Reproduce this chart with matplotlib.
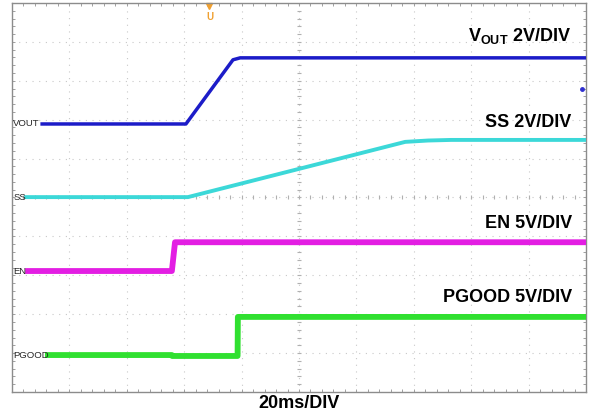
import numpy as np
import matplotlib.pyplot as plt

plt.rcParams['font.family'] = ['Liberation Sans', 'DejaVu Sans']
plt.rcParams['mathtext.fontset'] = 'custom'
plt.rcParams['mathtext.bf'] = 'Liberation Sans:bold'
plt.rcParams['mathtext.rm'] = 'Liberation Sans'

# Canales del osciloscopio: tiempo en ms, tension en V
t_vout = [10.5, 60.6, 77.0, 79.5, 200]
v_vout = [0.0, 0.0, 3.3, 3.4, 3.4]

t_ss = [4.9, 61.3, 137, 145, 153, 200]
v_ss = [0.0, 0.0, 2.84, 2.91, 2.94, 2.94]

t_en = [5.6, 55.7, 56.8, 200]
v_en = [0.0, 0.0, 3.7, 3.7]

t_pg = [12.5, 55.7, 55.8, 78.6, 78.7, 200]
v_pg = [0.0, 0.0, -0.12, -0.12, 4.9, 4.9]

# Escala (V/div) y posicion de tierra (div) de cada canal
canales = ["VOUT", "SS", "EN", "PGOOD"]
escalas = [2, 2, 5, 5]
offsets = [6.89, 5.01, 3.11, 0.95]
colores = ["#1c1cc8", "#3cd8d8", "#e31ee3", "#30e030"]
grosor = [2.5, 2.8, 4.2, 4.2]
etiquetas = [r"$\mathbf{V_{OUT}}$ 2V/DIV", "SS 2V/DIV", "EN 5V/DIV", "PGOOD 5V/DIV"]
y_etiquetas = [9.15, 6.92, 4.32, 2.44]

fig = plt.figure(figsize=(5.89, 4.17), dpi=100)
ax = fig.add_axes([12/589, 25/417, 574/589, 389/417])
ax.set_xlim(0, 200)
ax.set_ylim(0, 10)

# Reticula punteada
for k in range(1, 10):
    ax.axvline(k*20, color="#c8c8c8", lw=0.8, ls=(0, (1, 5)), zorder=0)
    ax.axhline(k, color="#c8c8c8", lw=0.8, ls=(0, (1, 5)), zorder=0)

# Marcas de la cruz central
marcas_x = np.arange(0, 200.1, 4)
marcas_y = np.arange(0, 10.01, 0.2)
ax.plot(marcas_x, np.full(len(marcas_x), 5.0), ls="none", marker="|", ms=3, color="#b0b0b0", mew=0.8, zorder=0)
ax.plot(np.full(len(marcas_y), 100.0), marcas_y, ls="none", marker="_", ms=3, color="#b0b0b0", mew=0.8, zorder=0)

ax.set_xticks(np.arange(0, 201, 20))
ax.set_yticks(np.arange(0, 11, 1))
ax.set_xticks(marcas_x, minor=True)
ax.set_yticks(marcas_y, minor=True)
ax.tick_params(which="both", direction="in", length=2.5, width=0.7, color="#a0a0a0",
               top=True, right=True, labelbottom=False, labelleft=False)
for s in ax.spines.values():
    s.set_color("#8c8c8c")
    s.set_linewidth(1.0)

datos = [(t_vout, v_vout), (t_ss, v_ss), (t_en, v_en), (t_pg, v_pg)]
for i, (t, v) in enumerate(datos):
    y = offsets[i] + np.array(v) / escalas[i]
    ax.plot(t, y, color=colores[i], lw=grosor[i], solid_joinstyle="round", zorder=3)
    ax.text(0.4, offsets[i], canales[i], fontsize=6.8, color="#262626",
            ha="left", va="center", zorder=4)
    ax.text(195, y_etiquetas[i], etiquetas[i], fontsize=13, fontweight="bold",
            ha="right", va="center")

# Marcador de disparo y punto del canal
ax.plot([68.8], [9.93], marker="v", ms=4, color="#f0a030", ls="none", clip_on=False)
ax.text(68.8, 9.65, "U", fontsize=7, fontweight="bold", color="#f0a030", ha="center", va="center")
ax.plot([0.993], [0.779], transform=ax.transAxes, marker="o", ms=2.5, color="#3030d0", ls="none")

fig.text(299/589, 1 - 403/417, "20ms/DIV", fontsize=13, fontweight="bold", ha="center", va="center")

plt.savefig("out.png", dpi=100)
